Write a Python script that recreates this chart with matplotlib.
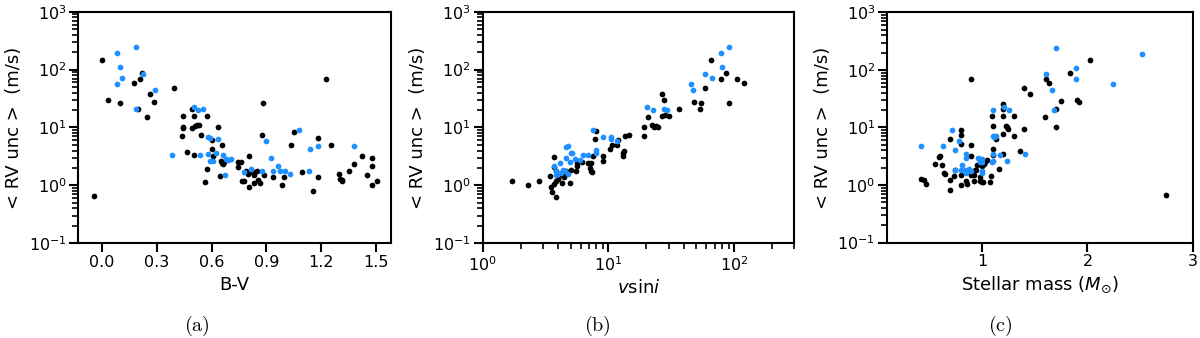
import numpy as np
import matplotlib
matplotlib.use("Agg")
import matplotlib.pyplot as plt

# ---------------- data ----------------
# panel (a): B-V vs <RV unc>
bv_black = [-0.04, 0.0, 0.033, 0.10, 0.178, 0.21, 0.218, 0.20, 0.25, 0.265, 0.285, 0.396,
            0.495, 0.505, 0.445, 0.577, 0.445, 0.445, 0.495, 0.51, 0.52, 0.53, 0.438, 0.545,
            0.467, 0.505, 0.636, 0.604, 0.656, 0.604, 0.607, 0.575, 0.567, 0.645, 0.65, 0.66,
            0.665, 0.67, 0.745, 0.76, 0.742, 0.764, 0.776, 0.807, 0.787, 0.80, 0.82, 0.807,
            0.83, 0.832, 0.833, 0.864, 0.855, 0.85, 0.882, 0.873, 0.884, 0.935, 0.987, 0.996,
            1.036, 1.05, 1.096, 1.155, 1.18, 1.18, 1.227, 1.25, 1.296, 1.30, 1.31, 1.31,
            1.35, 1.38, 1.42, 1.45, 1.476, 1.476, 1.478, 1.504]
rv_a_black = [0.66, 148, 29.5, 27, 59, 70, 88, 21, 15, 38, 28, 48,
              21, 16, 15.8, 15.6, 10, 9.7, 9.7, 10.5, 11, 11, 7.1, 7.5,
              3.8, 3.3, 10, 6.2, 5.0, 4.3, 3.2, 1.9, 1.13, 1.43, 2.6, 2.4,
              2.3, 2.5, 2.5, 2.55, 2.1, 1.2, 1.18, 3.2, 1.75, 1.6, 1.7, 0.95,
              1.5, 1.7, 1.12, 1.1, 1.25, 1.8, 26, 7.3, 1.5, 1.38, 1.0, 1.38,
              5.0, 8.5, 1.7, 0.81, 1.37, 6.5, 69, 5.0, 1.6, 1.3, 1.2, 1.25,
              1.75, 2.3, 3.2, 1.5, 3.0, 2.15, 1.0, 1.2]
bv_blue = [0.082, 0.187, 0.10, 0.113, 0.085, 0.227, 0.29, 0.19, 0.382, 0.505, 0.527, 0.556,
           0.535, 0.58, 0.59, 0.636, 0.58, 0.627, 0.59, 0.61, 0.664, 0.68, 0.69, 0.705,
           0.673, 0.78, 0.815, 0.878, 0.895, 0.924, 0.936, 0.964, 0.976, 1.0, 1.03, 1.08,
           1.13, 1.136, 1.18, 1.376]
rv_a_blue = [195, 246, 112, 72, 57, 85, 45, 21, 3.3, 23, 20, 21,
             3.3, 6.8, 6.7, 6.3, 3.5, 3.6, 2.6, 2.6, 3.4, 2.9, 2.8, 2.9,
             1.5, 1.7, 1.9, 1.75, 5.8, 2.95, 1.8, 2.2, 1.75, 1.8, 1.58, 9.1,
             1.8, 4.2, 4.8, 4.7]

# panel (b): vsini vs <RV unc>
vsini_black = [1.7, 2.3, 2.8, 3.44, 3.66, 3.68, 3.5, 3.57, 3.8, 3.66, 3.85, 4.0,
               4.3, 4.25, 4.45, 3.85, 4.35, 4.6, 4.9, 5.07, 5.6, 5.65, 5.55, 6.2,
               6.9, 7.1, 7.2, 7.4, 7.5, 7.8, 8.0, 7.3, 9.1, 9.1, 10.3, 10.6,
               11.6, 12.0, 13.0, 13.1, 13.2, 13.5, 14.6, 19.3, 19.3, 20.7, 22.0, 23.0,
               24.0, 24.6, 26.6, 27.8, 26.5, 28.0, 30.0, 36.4, 48.0, 53.5, 54.6, 58.8,
               65.0, 78.0, 86.0, 90.0, 105.0, 120.0]
rv_b_black = [1.17, 1.0, 1.2, 1.46, 2.1, 3.1, 0.95, 0.78, 0.64, 1.07, 1.17, 1.28,
              1.1, 1.5, 1.4, 1.75, 1.6, 1.8, 1.1, 1.85, 2.2, 2.4, 1.8, 2.5,
              2.4, 2.0, 1.8, 1.7, 3.2, 6.3, 8.8, 2.4, 3.2, 2.6, 4.3, 5.0,
              5.0, 6.2, 3.2, 3.6, 3.9, 7.1, 7.5, 10.0, 7.2, 15.0, 11.0, 10.0,
              10.5, 10.0, 38.0, 29.5, 16.0, 16.5, 15.5, 21.0, 28.0, 21.0, 26.0, 48.0,
              148.0, 70.0, 88.0, 27.0, 69.0, 59.0]
vsini_blue = [78, 91, 80, 58, 66, 45, 47, 20.3, 22.4, 27.7, 29.0, 7.5,
              9.0, 10.4, 10.5, 11.6, 7.9, 7.9, 6.9, 6.3, 5.9, 5.4, 5.1, 4.6,
              4.8, 5.0, 4.6, 4.9, 4.1, 3.7, 3.8, 3.9, 3.85, 4.35, 4.55, 4.8,
              4.2]
rv_b_blue = [195, 245, 112, 84, 72, 57, 45, 22.5, 20.4, 21.0, 20.0, 9.1,
             6.8, 6.8, 6.3, 5.8, 4.1, 3.6, 3.4, 3.4, 2.8, 2.9, 3.6, 4.6,
             4.7, 3.6, 3.0, 2.5, 2.4, 2.2, 1.75, 1.6, 1.5, 1.85, 1.75, 1.6,
             1.65]

# panel (c): stellar mass vs <RV unc>
mass_black = [0.424, 0.45, 0.474, 0.553, 0.59, 0.60, 0.622, 0.638, 0.647, 0.70, 0.70, 0.70,
              0.739, 0.748, 0.80, 0.80, 0.80, 0.80, 0.80, 0.849, 0.858, 0.90, 0.90, 0.90,
              0.90, 0.92, 0.92, 0.937, 0.943, 0.953, 0.985, 1.0, 1.01, 0.985, 1.0, 1.016,
              1.032, 1.047, 1.08, 1.088, 1.094, 1.10, 1.10, 1.10, 1.13, 1.16, 1.20, 1.20,
              1.20, 1.20, 1.20, 1.23, 1.24, 1.25, 1.30, 1.30, 1.36, 1.40, 1.40, 1.457,
              1.61, 1.64, 1.60, 1.70, 1.70, 1.75, 1.83, 1.90, 1.92, 2.02, 2.74]
rv_c_black = [1.29, 1.24, 1.04, 2.35, 3.1, 3.25, 2.2, 1.62, 1.55, 6.3, 1.24, 0.81,
              1.42, 1.8, 8.9, 7.3, 5.2, 1.5, 0.99, 1.16, 1.04, 5.0, 69, 3.2,
              1.5, 1.48, 1.16, 1.8, 1.85, 2.23, 1.17, 1.15, 1.13, 1.4, 2.1, 2.3,
              2.5, 2.75, 1.12, 1.44, 15.7, 10.5, 4.3, 3.3, 6.3, 1.9, 26, 21,
              16, 7.6, 3.4, 10.8, 10.2, 9.5, 15.8, 7.0, 3.9, 48, 9.6, 39,
              70, 59, 15.2, 21, 10.2, 29, 87, 30, 27.6, 149, 0.66]
mass_blue = [0.424, 0.63, 0.72, 0.748, 0.78, 0.74, 0.80, 0.81, 0.84, 0.845, 0.85, 0.85,
             0.875, 0.90, 0.96, 0.98, 1.0, 1.0, 0.985, 1.0, 1.0, 1.1, 1.105, 1.11,
             1.13, 1.105, 1.1, 1.095, 1.17, 1.21, 1.26, 1.24, 1.41, 1.61, 1.66, 1.70,
             1.68, 1.89, 1.89, 2.24, 2.52]
rv_c_blue = [4.85, 4.7, 9.2, 4.1, 5.9, 1.8, 1.85, 2.2, 1.8, 1.6, 3.4, 3.0,
             1.9, 1.75, 2.9, 2.85, 2.8, 2.5, 2.5, 1.6, 1.75, 20, 7.0, 6.8,
             7.0, 3.5, 2.6, 2.5, 3.3, 23, 20, 2.6, 3.4, 84, 45, 245,
             20.4, 110, 71, 58, 192]

# tick labels
bv_ticks = [0.0, 0.3, 0.6, 0.9, 1.2, 1.5]
bv_ticklabels = ["0.0", "0.3", "0.6", "0.9", "1.2", "1.5"]
mass_ticks = [1, 2, 3]
captions = ["(a)", "(b)", "(c)"]

# ---------------- figure ----------------
BLACK = "black"
BLUE = "#1E90FF"
fig = plt.figure(figsize=(12, 3.38), dpi=100)

W, H = 1200.0, 338.0
def add_ax(left_px, right_px, top_px, bottom_px):
    return fig.add_axes([left_px / W, 1 - bottom_px / H,
                         (right_px - left_px) / W, (bottom_px - top_px) / H])

ax_a = add_ax(78.3, 390.5, 11.7, 243.3)
ax_b = add_ax(482.7, 794.3, 11.7, 243.3)
ax_c = add_ax(887.0, 1193.0, 12.5, 242.5)

ms = 17
ax_a.scatter(bv_black, rv_a_black, s=ms, c=BLACK, linewidths=0, zorder=3)
ax_a.scatter(bv_blue, rv_a_blue, s=ms, c=BLUE, linewidths=0, zorder=3)
ax_b.scatter(vsini_black, rv_b_black, s=ms, c=BLACK, linewidths=0, zorder=3)
ax_b.scatter(vsini_blue, rv_b_blue, s=ms, c=BLUE, linewidths=0, zorder=3)
ax_c.scatter(mass_black, rv_c_black, s=ms, c=BLACK, linewidths=0, zorder=3)
ax_c.scatter(mass_blue, rv_c_blue, s=ms, c=BLUE, linewidths=0, zorder=3)

for ax in (ax_a, ax_b, ax_c):
    ax.set_yscale("log")
    ax.set_ylim(0.1, 1000)
    ax.set_ylabel("< RV unc >  (m/s)", fontsize=13)
    for sp in ax.spines.values():
        sp.set_linewidth(1.5)
    ax.tick_params(which="major", length=6.5, width=1.5, labelsize=11.5, pad=2)
    ax.tick_params(which="minor", length=4.5, width=1.2)

ax_a.set_xlim(-0.1275, 1.5775)
ax_a.set_xticks(bv_ticks)
ax_a.set_xticklabels(bv_ticklabels)
ax_a.set_xlabel("B-V", fontsize=13)

ax_b.set_xscale("log")
ax_b.set_xlim(1, 300)
ax_b.set_xlabel(r"$v$sin$i$", fontsize=13)

ax_c.set_xlim(0.1, 3)
ax_c.set_xticks(mass_ticks)
ax_c.set_xlabel(r"Stellar mass ($M_{\odot}$)", fontsize=13)

for i, cap in enumerate(captions):
    cx = [197, 597, 1000][i] / W
    fig.text(cx, 1 - 326 / H, r"$\mathrm{" + cap + "}$", math_fontfamily="cm",
             fontsize=14.5, ha="center", va="center")

fig.savefig("out.png", dpi=100)
